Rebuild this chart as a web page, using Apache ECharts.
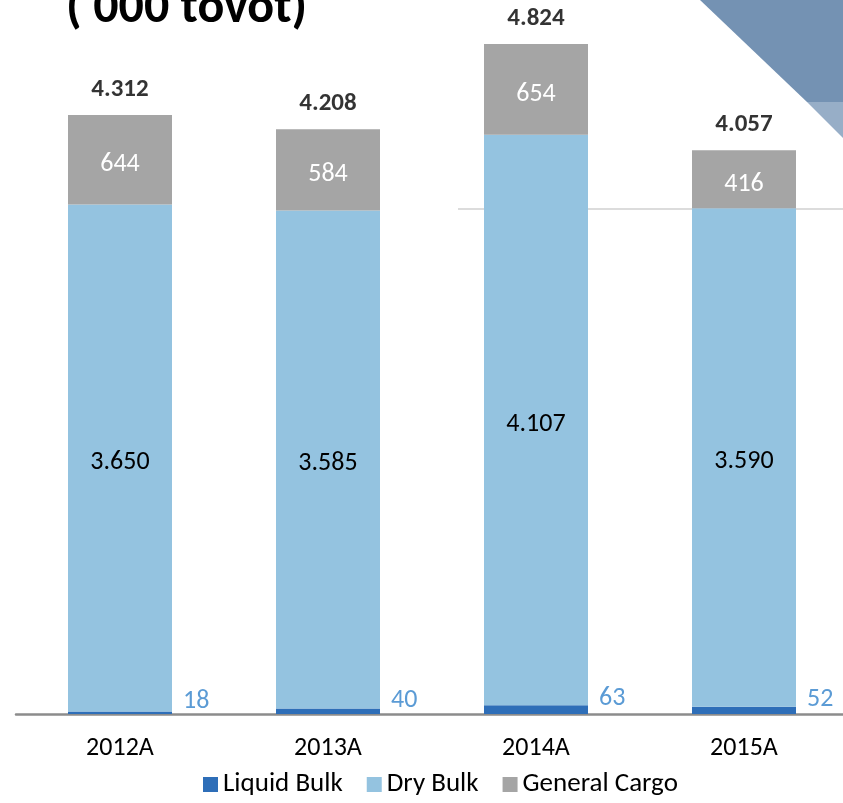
<!DOCTYPE html>
<html>
<head>
<meta charset="utf-8">
<script src="https://cdn.jsdelivr.net/npm/echarts@6/dist/echarts.min.js"></script>
<style>html,body{margin:0;padding:0;background:#fff;overflow:hidden;}#c{width:850px;height:803px;}</style>
</head>
<body>
<div id="c"></div>
<script>
const categories = ['2012A', '2013A', '2014A', '2015A'];
const liquidBulk = [18, 40, 63, 52];
const dryBulk = [3650, 3585, 4107, 3590];
const generalCargo = [644, 584, 654, 416];
const totals = [4312, 4208, 4824, 4057];
const titleText = "('000 tovot)";

const FONT = 'Carlito, Calibri, Lato, sans-serif';
const FS = 26;
function fmt(v) { return String(v).replace(/\B(?=(\d{3})+(?!\d))/g, '.'); }

const chart = echarts.init(document.getElementById('c'));
chart.setOption({
  animation: false,
  textStyle: { fontFamily: FONT },
  graphic: [
    { type: 'polygon', z: 0, shape: { points: [[700, 0], [850, 0], [850, 102], [807, 102]] }, style: { fill: '#7492B3' } },
    { type: 'polygon', z: 0, shape: { points: [[807, 102], [850, 102], [850, 145]] }, style: { fill: '#97AEC7' } },
    { type: 'line', z: -1, silent: true, shape: { x1: 458, y1: 209, x2: 850, y2: 209 }, style: { stroke: '#D0D0D0', lineWidth: 1.5 } },
    { type: 'text', left: 66, top: -16, style: { text: titleText, font: 'bold 50px ' + FONT, fill: '#000' } }
  ],
  grid: { left: 16, width: 832, top: 19.5, height: 694.5, containLabel: false },
  legend: {
    bottom: 0, left: 198,
    itemWidth: 15, itemHeight: 15, itemGap: 24,
    icon: 'rect',
    textStyle: { fontSize: 27, color: '#000', fontFamily: FONT },
    data: ['Liquid Bulk', 'Dry Bulk', 'General Cargo']
  },
  xAxis: {
    type: 'category', data: categories,
    axisLine: { lineStyle: { color: '#8C8C8C', width: 2.5 } },
    axisTick: { show: false },
    axisLabel: { fontSize: FS, color: '#000', margin: 21, fontFamily: FONT }
  },
  yAxis: { type: 'value', min: 0, max: 5000, show: false, splitLine: { show: false } },
  series: [
    {
      name: 'Liquid Bulk', type: 'bar', stack: 'a', data: liquidBulk, barWidth: 104,
      itemStyle: { color: '#2E6EB8' },
      label: { show: true, position: 'right', distance: 11, offset: [0, -11], color: '#5B9BD5', fontSize: FS, fontFamily: FONT, formatter: p => fmt(p.value) }
    },
    {
      name: 'Dry Bulk', type: 'bar', stack: 'a', data: dryBulk, barWidth: 104,
      itemStyle: { color: '#94C3E0' },
      label: { show: true, position: 'inside', offset: [0, 4], color: '#000', fontSize: FS, fontFamily: FONT, formatter: p => fmt(p.value) }
    },
    {
      name: 'General Cargo', type: 'bar', stack: 'a', data: generalCargo, barWidth: 104,
      itemStyle: { color: '#A5A5A5' },
      label: { show: true, position: 'inside', offset: [0, 5], color: '#fff', fontSize: FS, fontFamily: FONT, formatter: p => fmt(p.value) }
    },
    {
      name: 'Total', type: 'scatter', data: totals, symbolSize: 0, silent: true,
      label: { show: true, position: 'top', distance: 13, color: '#000', fontWeight: 'bold', fontSize: 25, fontFamily: FONT, formatter: p => fmt(p.value) }
    }
  ]
});
</script>
</body>
</html>
